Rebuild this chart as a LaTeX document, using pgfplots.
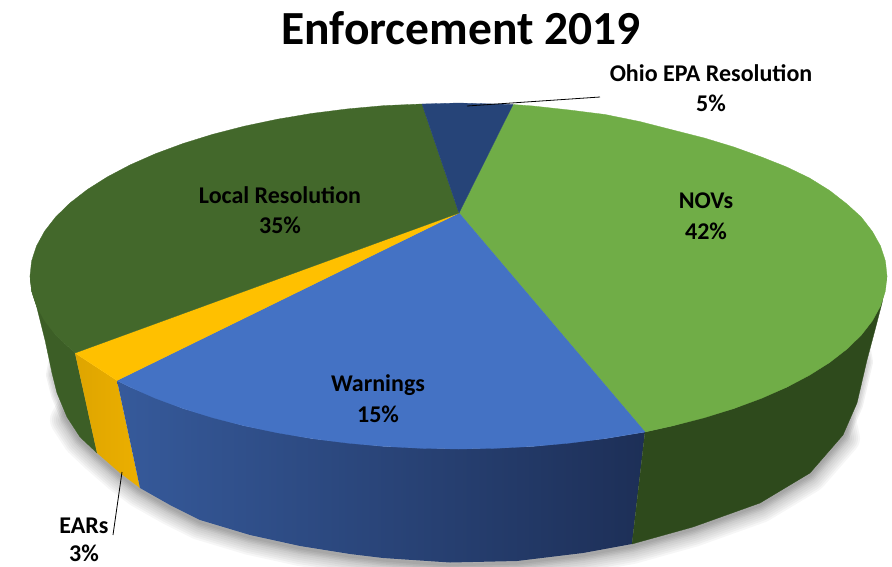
\documentclass[border=0pt]{standalone}
\usepackage{pgfplots}
\pgfplotsset{compat=1.18}
\usepackage{fontspec}
\setmainfont{Carlito}
\definecolor{nov}{HTML}{70AD47}
\definecolor{loc}{HTML}{43682B}
\definecolor{war}{HTML}{4472C4}
\definecolor{ear}{HTML}{FFC000}
\definecolor{ohio}{HTML}{264478}
\definecolor{novside}{HTML}{2E4A1C}
\definecolor{locside}{HTML}{3C5E26}
\begin{document}
\begin{tikzpicture}
\useasboundingbox (0,0) rectangle (892pt,566pt);
\begin{axis}[
  at={(0pt,0pt)}, anchor=south west,
  scale only axis, width=892pt, height=566pt,
  xmin=0, xmax=892, ymin=0, ymax=566, y dir=reverse,
  hide axis, clip=true,
  every axis plot/.append style={no markers, line join=round},
]
% shadow under the pie: wide soft layers on the lower rim
\pgfplotsinvokeforeach{34,30,26,22,18,14}{
\addplot[draw=black, opacity=0.035, line width=#1pt, yshift=-3pt] coordinates {
(85,385) (67,417) (80,437) (97,453) (120,473) (140,488) (170,505) (200,520) (250,535) (300,546) (350,554) (383,558) (450,563) (517,561) (583,553) (632,544) (693,527) (760,503) (810,473) (843,435) (835,400)
};
}
% narrower layers that reach further up the sides
\pgfplotsinvokeforeach{12,9,6,3}{
\addplot[draw=black, opacity=0.05, line width=#1pt, yshift=-2pt] coordinates {
(60,330) (52,373) (57,393) (67,417) (80,437) (97,453) (120,473) (140,488) (170,505) (200,520) (250,535) (300,546) (350,554) (383,558) (450,563) (517,561) (583,553) (632,544) (693,527) (760,503) (810,473) (843,435) (857,403) (867,360) (860,320)
};
}
% side faces
\addplot[fill=locside, draw=locside, line width=.3pt] coordinates {
(30,276) (31.6,291) (36.5,306) (45,340) (52,373) (57,393) (67,417) (80,437) (97,453) (75,353) (55.8,335.2) (36.5,306)
} -- cycle;
\addplot[draw=none, left color={rgb,255:red,222;green,165;blue,0}, right color={rgb,255:red,236;green,175;blue,0}] coordinates {
(75,353) (97,453) (120,473) (140,488) (117,380.5)
} -- cycle;
\addplot[draw=none, left color={rgb,255:red,54;green,90;blue,155}, middle color={rgb,255:red,39;green,64;blue,111}, right color={rgb,255:red,29;green,47;blue,87}] coordinates {
(117,380.5) (140,488) (170,505) (200,520) (250,535) (300,546) (350,554) (383,558) (450,562.5) (517,561) (583,553) (632,544) (645,432)
(605.1,438.6) (532.9,446.4) (458.5,449) (384.1,446.4) (311.9,438.6) (244.2,425.8) (183.1,408.5) (130.3,387.2)
} -- cycle;
\addplot[fill=novside, draw=novside, line width=.3pt] coordinates {
(632,544) (693,527) (760,503) (810,473) (843,435) (857,403) (867,360) (875,330) (882,303) (887,276)
(880.5,306) (861.2,335.2) (829.6,362.5) (786.7,387.2) (733.9,408.5) (672.8,425.8) (645,432)
} -- cycle;
% top faces
\addplot[fill=nov, draw=nov, line width=.3pt] coordinates {
(459,213) (513,104.5) (532.9,106) (569.4,110) (605.1,114.5) (639.6,121.5) (672.8,130) (704.3,138) (733.9,147) (761.5,157) (786.7,167) (809.5,178) (829.6,190.5) (846.9,204) (861.2,217) (872.4,231.5) (880.5,246) (885.4,261) (887,276) (885.4,291) (880.5,306) (872.4,320.8) (861.2,335.2) (846.9,349.1) (829.6,362.5) (809.5,375.2) (786.7,387.2) (761.5,398.3) (733.9,408.5) (704.3,417.7) (672.8,425.8) (645,432)
} -- cycle;
\addplot[fill=war, draw=war, line width=.3pt] coordinates {
(459,213) (645,432) (605.1,438.6) (569.4,443.1) (532.9,446.4) (495.8,448.3) (458.5,449) (421.2,448.3) (384.1,446.4) (347.6,443.1) (311.9,438.6) (277.4,432.8) (244.2,425.8) (212.7,417.7) (183.1,408.5) (155.5,398.3) (130.3,387.2) (117,380.5)
} -- cycle;
\addplot[fill=ear, draw=ear, line width=.3pt] coordinates {
(459,213) (117,380.5) (75,353)
} -- cycle;
\addplot[fill=loc, draw=loc, line width=.3pt] coordinates {
(459,213) (75,353) (55.8,335.2) (44.6,320.8) (36.5,306) (31.6,291) (30,276) (31.6,261) (36.5,246) (44.6,231.2) (55.8,216.8) (70.1,202.9) (87.4,189.5) (107.5,176.8) (130.3,164.8) (155.5,153.7) (183.1,143.5) (212.7,134.3) (244.2,126.2) (277.4,119.2) (311.9,113.4) (347.6,108.9) (384.1,105.6) (422,104)
} -- cycle;
\addplot[fill=ohio, draw=ohio, line width=.3pt] coordinates {
(459,213) (422,104) (458.5,103) (513,104.5)
} -- cycle;
% leader lines
\addplot[draw=black, line width=.8pt] coordinates {(467,106) (600,97)};
\addplot[draw=black, line width=.8pt] coordinates {(122,472) (113,535)};
% labels
\node[font=\fontsize{47.5}{47.5}\selectfont\bfseries] at (axis cs:461,28) {Enforcement 2019};
\tikzset{lab/.style={font=\fontsize{24}{24}\selectfont\bfseries, text=black, inner sep=0pt}}
\node[lab] at (axis cs:711,73) {Ohio EPA Resolution};
\node[lab] at (axis cs:711,103) {5\%};
\node[lab] at (axis cs:706,201) {NOVs};
\node[lab] at (axis cs:706,231) {42\%};
\node[lab] at (axis cs:280,195) {Local Resolution};
\node[lab] at (axis cs:280,225) {35\%};
\node[lab] at (axis cs:378,385) {Warnings};
\node[lab] at (axis cs:378,414) {15\%};
\node[lab] at (axis cs:84,526) {EARs};
\node[lab] at (axis cs:84,553) {3\%};
\end{axis}
\end{tikzpicture}
\end{document}
